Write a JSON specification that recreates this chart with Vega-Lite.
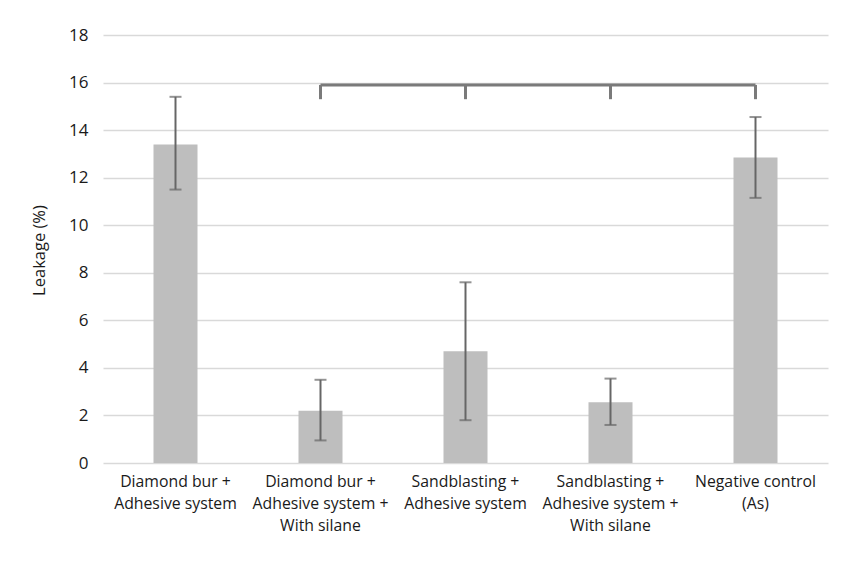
{
  "$schema": "https://vega.github.io/schema/vega-lite/v6.json",
  "width": 725,
  "height": 428,
  "autosize": {"type": "none"},
  "padding": {"left": 103, "top": 35, "right": 38, "bottom": 102},
  "background": "white",
  "config": {
    "font": "Open Sans",
    "view": {"stroke": null},
    "axis": {"labelFont": "Open Sans", "titleFont": "Open Sans", "labelColor": "#1a1a1a", "titleColor": "#1a1a1a"}
  },
  "datasets": {
    "bars": [
      {"group": "Diamond bur +|Adhesive system", "leakage": 13.4, "low": 11.5, "high": 15.4},
      {"group": "Diamond bur +|Adhesive system +|With silane", "leakage": 2.2, "low": 0.95, "high": 3.5},
      {"group": "Sandblasting +|Adhesive system", "leakage": 4.7, "low": 1.8, "high": 7.6},
      {"group": "Sandblasting  +|Adhesive system +|With silane", "leakage": 2.55, "low": 1.6, "high": 3.55},
      {"group": "Negative control|(As)", "leakage": 12.85, "low": 11.15, "high": 14.55}
    ],
    "bracketTicks": [
      {"group": "Diamond bur +|Adhesive system +|With silane", "top": 15.9, "bottom": 15.3},
      {"group": "Sandblasting +|Adhesive system", "top": 15.9, "bottom": 15.3},
      {"group": "Sandblasting  +|Adhesive system +|With silane", "top": 15.9, "bottom": 15.3},
      {"group": "Negative control|(As)", "top": 15.9, "bottom": 15.3}
    ],
    "bracketLine": [
      {"from": "Diamond bur +|Adhesive system +|With silane", "to": "Negative control|(As)", "level": 15.9}
    ]
  },
  "layer": [
    {
      "data": {"name": "bars"},
      "mark": {"type": "bar", "color": "#bebebe", "width": 44},
      "encoding": {
        "x": {
          "field": "group", "type": "nominal", "sort": null,
          "scale": {"paddingInner": 0.7, "paddingOuter": 0.35},
          "axis": {
            "title": null, "labelAngle": 0, "domain": false, "ticks": false,
            "labelExpr": "split(datum.label, '|')", "labelFontSize": 15.8,
            "labelLineHeight": 22, "labelPadding": 11, "labelBaseline": "top"
          }
        },
        "y": {
          "field": "leakage", "type": "quantitative",
          "scale": {"domain": [0, 18]},
          "axis": {
            "title": "Leakage (%)", "values": [0, 2, 4, 6, 8, 10, 12, 14, 16, 18],
            "domain": false, "ticks": false, "gridColor": "#d9d9d9", "gridWidth": 1.5,
            "labelFontSize": 17, "labelPadding": 15, "titleFontSize": 16.5, "titleFontWeight": "normal",
            "titleX": -56, "titleY": 215
          }
        }
      }
    },
    {
      "data": {"name": "bars"},
      "mark": {"type": "rule", "color": "#666666", "strokeWidth": 2},
      "encoding": {
        "x": {"field": "group", "type": "nominal", "sort": null},
        "y": {"field": "low", "type": "quantitative"},
        "y2": {"field": "high"}
      }
    },
    {
      "data": {"name": "bars"},
      "mark": {"type": "tick", "color": "#666666", "thickness": 2, "size": 12, "orient": "horizontal"},
      "encoding": {
        "x": {"field": "group", "type": "nominal", "sort": null},
        "y": {"field": "low", "type": "quantitative"}
      }
    },
    {
      "data": {"name": "bars"},
      "mark": {"type": "tick", "color": "#666666", "thickness": 2, "size": 12, "orient": "horizontal"},
      "encoding": {
        "x": {"field": "group", "type": "nominal", "sort": null},
        "y": {"field": "high", "type": "quantitative"}
      }
    },
    {
      "data": {"name": "bracketLine"},
      "mark": {"type": "rule", "color": "#7a7a7a", "strokeWidth": 3},
      "encoding": {
        "x": {"field": "from", "type": "nominal", "sort": null},
        "x2": {"field": "to"},
        "y": {"field": "level", "type": "quantitative"}
      }
    },
    {
      "data": {"name": "bracketTicks"},
      "mark": {"type": "rule", "color": "#7a7a7a", "strokeWidth": 3},
      "encoding": {
        "x": {"field": "group", "type": "nominal", "sort": null},
        "y": {"field": "bottom", "type": "quantitative"},
        "y2": {"field": "top"}
      }
    }
  ]
}
